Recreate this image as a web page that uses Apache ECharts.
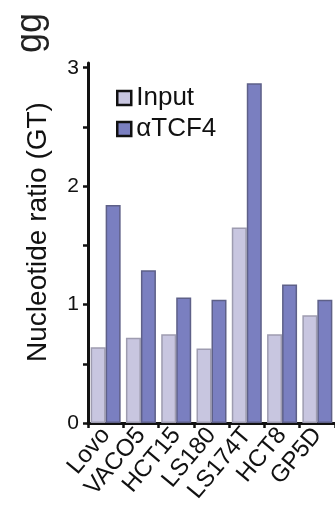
<!DOCTYPE html>
<html>
<head>
<meta charset="utf-8">
<script src="https://cdn.jsdelivr.net/npm/echarts@6/dist/echarts.min.js"></script>
<style>
html,body{margin:0;padding:0;background:#fff;}
#chart{width:335px;height:506px;}
</style>
</head>
<body>
<div id="chart"></div>
<script>
var categories = ['Lovo', 'VACO5', 'HCT15', 'LS180', 'LS174T', 'HCT8', 'GP5D'];
var inputValues = [0.64, 0.72, 0.75, 0.63, 1.65, 0.75, 0.91];
var tcf4Values = [1.84, 1.29, 1.06, 1.04, 2.87, 1.17, 1.04];
var yTickLabels = [0, 1, 2, 3];
var yTickValues = [0, 0.5, 1, 1.5, 2, 2.5, 3];
var seriesNames = ['Input', '\u03B1TCF4'];

var FONT = 'Liberation Sans, Arial, Helvetica, sans-serif';
var chart = echarts.init(document.getElementById('chart'), null, {renderer: 'canvas'});
chart.setOption({
  backgroundColor: '#ffffff',
  animation: false,
  textStyle: {fontFamily: FONT, color: '#111'},
  graphic: [{
    type: 'group',
    x: 49, y: 53,
    rotation: Math.PI / 2,
    children: [{
      type: 'text',
      x: 0, y: 0,
      style: {text: 'gg', font: '36px ' + FONT, fill: '#222', textVerticalAlign: 'bottom'}
    }]
  }],
  legend: {
    orient: 'vertical',
    left: 111,
    top: 80,
    itemWidth: 14,
    itemHeight: 14,
    itemGap: 5,
    icon: 'rect',
    textStyle: {fontSize: 26, color: '#111', fontFamily: FONT},
    data: [
      {name: seriesNames[0], itemStyle: {color: '#c8c6e0', borderColor: '#111', borderWidth: 2.5}},
      {name: seriesNames[1], itemStyle: {color: '#7a7fc0', borderColor: '#111', borderWidth: 2.5}}
    ]
  },
  grid: {left: 88, right: -17, top: 63, bottom: 83, containLabel: false},
  xAxis: {
    type: 'category',
    data: categories,
    axisLine: {show: true, lineStyle: {color: '#111', width: 3}},
    axisTick: {show: true, alignWithLabel: false, length: 5, lineStyle: {color: '#111', width: 2.5}},
    axisLabel: {interval: 0, rotate: 50, margin: 8, fontSize: 24, color: '#111', fontFamily: FONT},
    splitLine: {show: false}
  },
  yAxis: {
    type: 'value',
    min: 0,
    max: 3.04,
    name: 'Nucleotide ratio (GT)',
    nameLocation: 'middle',
    nameGap: 36,
    nameRotate: 90,
    nameTextStyle: {fontSize: 28, color: '#111', fontFamily: FONT, padding: [0, 0, 0, 22]},
    axisLine: {show: true, lineStyle: {color: '#111', width: 3}},
    axisTick: {show: true, length: 5, lineStyle: {color: '#111', width: 2.5}, customValues: yTickValues},
    axisLabel: {fontSize: 21, color: '#111', margin: 9, fontFamily: FONT, customValues: yTickLabels},
    splitLine: {show: false}
  },
  series: [
    {
      name: seriesNames[0],
      type: 'bar',
      data: inputValues,
      barWidth: 15,
      barGap: '0%',
      itemStyle: {color: '#c8c6e0', borderColor: '#9e9cb0', borderWidth: 1.5}
    },
    {
      name: seriesNames[1],
      type: 'bar',
      data: tcf4Values,
      barWidth: 15,
      barGap: '0%',
      itemStyle: {color: '#7a7fc0', borderColor: '#5e6088', borderWidth: 1.5}
    }
  ]
});
</script>
</body>
</html>
